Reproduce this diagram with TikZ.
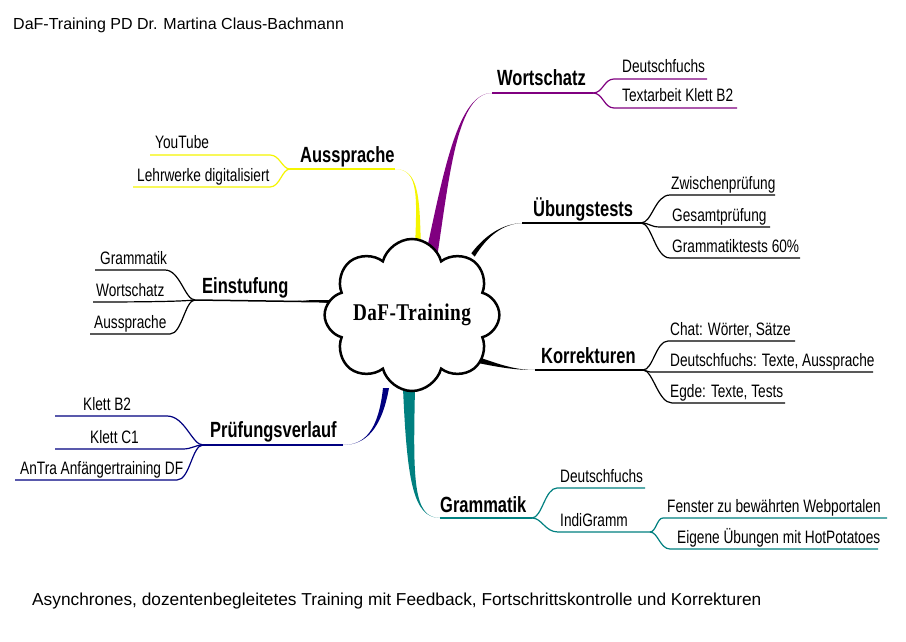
\documentclass[tikz,border=0pt]{standalone}
\usepackage{fontspec}
\setmainfont{Liberation Sans}
\newfontfamily\zweigfont[FakeStretch=0.76]{Liberation Sans}
\newfontfamily\astfont[FakeStretch=0.75]{Liberation Sans}
\newfontfamily\wolkefont[FakeStretch=0.8,LetterSpace=2]{Liberation Serif}
\usetikzlibrary{shapes.symbols,calc}
\definecolor{lila}{RGB}{128,0,128}
\definecolor{petrol}{RGB}{0,128,128}
\definecolor{marine}{RGB}{0,0,128}
\definecolor{gelb}{RGB}{245,245,0}
% Keil: Farbe, von, nach, Kontrollpunkt 1, Kontrollpunkt 2, halbe Breite (dx,dy)
\newcommand{\keil}[7]{\fill[#1] ($(#2)+(#6,#7)$) .. controls ($(#4)+(#6/2,#7/2)$) and (#5) .. (#3)
  .. controls (#5) and ($(#4)-(#6/2,#7/2)$) .. ($(#2)-(#6,#7)$) -- cycle;}
\begin{document}
\begin{tikzpicture}[x=1pt,y=-1pt,
    ast/.style={anchor=base west,inner sep=0pt,font=\astfont\bfseries\fontsize{22}{22}\selectfont},
    zweig/.style={anchor=base west,inner sep=0pt,font=\zweigfont\fontsize{18}{18}\selectfont},
    linie/.style={line width=1.5pt},
    duenn/.style={line width=1.2pt},
    schrift/.style={anchor=base west,inner sep=0pt,font=\fontsize{16}{16}\selectfont}]
  \fill[white] (0,0) rectangle (906,642);
  \useasboundingbox (0,0) rectangle (906,642);
  \node[schrift] (titel) at (13,30) {DaF-Training PD Dr. Martina Claus-Bachmann};
  \node[schrift,font=\fontsize{17.3}{17.3}\selectfont] (fuss) at (32,605) {Asynchrones, dozentenbegleitetes Training mit Feedback, Fortschrittskontrolle und Korrekturen};
  % Wortschatz
  \coordinate (w0) at (431,258); \coordinate (w1) at (492,93); \coordinate (w2) at (593,93);
  \keil{lila}{w0}{w1}{447,170}{458,93}{6}{0}
  \draw[lila,linie] (w1) -- (w2);
  \node[ast] (wort) at (497,85) {Wortschatz};
  \coordinate (w3) at (614,79); \coordinate (w4) at (707,79);
  \coordinate (w5) at (614,108); \coordinate (w6) at (737,108);
  \draw[lila,duenn] (w2) .. controls (603,93) and (604,79) .. (w3) -- (w4);
  \draw[lila,duenn] (w2) .. controls (603,93) and (604,108) .. (w5) -- (w6);
  \node[zweig] (w3t) at (622,73) {Deutschfuchs};
  \node[zweig] (w5t) at (622,102) {Textarbeit Klett B2};
  % Aussprache
  \coordinate (a0) at (418,250); \coordinate (a1) at (395,169); \coordinate (a2) at (290,169);
  \keil{gelb}{a0}{a1}{418,200}{420,169}{3}{0}
  \draw[gelb,linie] (a1) -- (a2);
  \node[ast] (aus) at (300,162) {Aussprache};
  \coordinate (a3) at (270,155); \coordinate (a4) at (150,155);
  \coordinate (a5) at (270,187); \coordinate (a6) at (133,187);
  \draw[gelb,duenn] (a2) .. controls (282,169) and (280,155) .. (a3) -- (a4);
  \draw[gelb,duenn] (a2) .. controls (282,169) and (280,187) .. (a5) -- (a6);
  \node[zweig] (a3t) at (155,149) {YouTube};
  \node[zweig] (a5t) at (137,181) {Lehrwerke digitalisiert};
  % Uebungstests
  \coordinate (u0) at (473,255); \coordinate (u1) at (522,223); \coordinate (u2) at (641,223);
  \keil{black}{u0}{u1}{486,236}{502,224}{1.7}{1.7}
  \draw[linie] (u1) -- (u2);
  \node[ast] (ueb) at (533,216) {Übungstests};
  \coordinate (u3) at (670,195); \coordinate (u4) at (775,195);
  \coordinate (u5) at (660,227); \coordinate (u6) at (770,227);
  \coordinate (u7) at (670,258); \coordinate (u8) at (800,258);
  \draw[duenn] (u2) .. controls (652,223) and (655,195) .. (u3) -- (u4);
  \draw[duenn] (u2) .. controls (650,223) and (650,227) .. (u5) -- (u6);
  \draw[duenn] (u2) .. controls (652,223) and (655,258) .. (u7) -- (u8);
  \node[zweig] (u3t) at (671,189) {Zwischenprüfung};
  \node[zweig] (u5t) at (672,221) {Gesamtprüfung};
  \node[zweig] (u7t) at (672,252) {Grammatiktests 60\%};
  % Einstufung
  \coordinate (e0) at (337,302); \coordinate (e1) at (298,300); \coordinate (e2) at (195,300);
  \keil{black}{e0}{e1}{320,301}{305,300}{0}{2}
  \draw[linie] (e0) -- (e2);
  \node[ast] (ein) at (202,293) {Einstufung};
  \coordinate (e3) at (165,270); \coordinate (e4) at (95,270);
  \coordinate (e5) at (93,302);
  \coordinate (e6) at (170,334); \coordinate (e7) at (90,334);
  \draw[duenn] (e2) .. controls (185,300) and (180,270) .. (e3) -- (e4);
  \draw[duenn] (e2) .. controls (190,300) and (190,302) .. (e5);
  \draw[duenn] (e2) .. controls (185,300) and (182,334) .. (e6) -- (e7);
  \node[zweig] (e3t) at (100,264) {Grammatik};
  \node[zweig] (e5t) at (96,296) {Wortschatz};
  \node[zweig] (e6t) at (94,328) {Aussprache};
  % Korrekturen
  \coordinate (k0) at (478,360); \coordinate (k1) at (535,370); \coordinate (k2) at (643,370);
  \keil{black}{k0}{k1}{500,366}{515,370}{0}{3}
  \draw[linie] (k1) -- (k2);
  \node[ast] (korr) at (541,363) {Korrekturen};
  \coordinate (k3) at (668,341); \coordinate (k4) at (795,341);
  \coordinate (k5) at (650,372); \coordinate (k6) at (873,372);
  \coordinate (k7) at (672,403); \coordinate (k8) at (785,403);
  \draw[duenn] (k2) .. controls (653,370) and (656,341) .. (k3) -- (k4);
  \draw[duenn] (k2) .. controls (646,370) and (647,372) .. (k5) -- (k6);
  \draw[duenn] (k2) .. controls (653,370) and (658,403) .. (k7) -- (k8);
  \node[zweig] (k3t) at (670,335) {Chat: Wörter, Sätze};
  \node[zweig] (k5t) at (670,366) {Deutschfuchs: Texte, Aussprache};
  \node[zweig] (k7t) at (670,397) {Egde: Texte, Tests};
  % Pruefungsverlauf
  \coordinate (p0) at (386,388); \coordinate (p1) at (343,445); \coordinate (p2) at (203,445);
  \keil{marine}{p0}{p1}{380,430}{365,445}{3}{0}
  \draw[marine,linie] (p1) -- (p2);
  \node[ast] (pruef) at (210,437) {Prüfungsverlauf};
  \coordinate (p3) at (167,416); \coordinate (p4) at (55,416);
  \coordinate (p5) at (183,449); \coordinate (p6) at (55,449);
  \coordinate (p7) at (177,480); \coordinate (p8) at (15,480);
  \draw[marine,duenn] (p2) .. controls (192,445) and (185,416) .. (p3) -- (p4);
  \draw[marine,duenn] (p2) .. controls (195,445) and (192,449) .. (p5) -- (p6);
  \draw[marine,duenn] (p2) .. controls (192,445) and (190,480) .. (p7) -- (p8);
  \node[zweig] (p3t) at (83,410) {Klett B2};
  \node[zweig] (p5t) at (90,443) {Klett C1};
  \node[zweig] (p7t) at (20,474) {AnTra Anfängertraining DF};
  % Grammatik
  \coordinate (g0) at (409,388); \coordinate (g1) at (440,518); \coordinate (g2) at (532,518);
  \keil{petrol}{g0}{g1}{410,480}{413,518}{6}{0}
  \draw[petrol,linie] (g1) -- (g2);
  \node[ast] (gram) at (440,512) {Grammatik};
  \coordinate (g3) at (557,488); \coordinate (g4) at (645,488);
  \coordinate (g5) at (558,532); \coordinate (g6) at (650,532);
  \draw[petrol,duenn] (g2) .. controls (542,518) and (545,488) .. (g3) -- (g4);
  \draw[petrol,duenn] (g2) .. controls (542,518) and (545,532) .. (g5) -- (g6);
  \node[zweig] (g3t) at (560,482) {Deutschfuchs};
  \node[zweig] (g5t) at (560,526) {IndiGramm};
  \coordinate (g7) at (663,518); \coordinate (g8) at (887,518);
  \coordinate (g9) at (670,549); \coordinate (g10) at (878,549);
  \draw[petrol,duenn] (g6) .. controls (656,532) and (657,518) .. (g7) -- (g8);
  \draw[petrol,duenn] (g6) .. controls (658,532) and (660,549) .. (g9) -- (g10);
  \node[zweig] (g7t) at (667,512) {Fenster zu bewährten Webportalen};
  \node[zweig] (g9t) at (677,543) {Eigene Übungen mit HotPotatoes};
  % Wolke
  \node[cloud,cloud puffs=8,cloud ignores aspect,draw,fill=white,line width=2.5pt,
    minimum width=158pt,minimum height=152pt,
    font=\wolkefont\bfseries\fontsize{24}{24}\selectfont] (wolke) at (412,315) {DaF-Training};
\end{tikzpicture}
\end{document}
